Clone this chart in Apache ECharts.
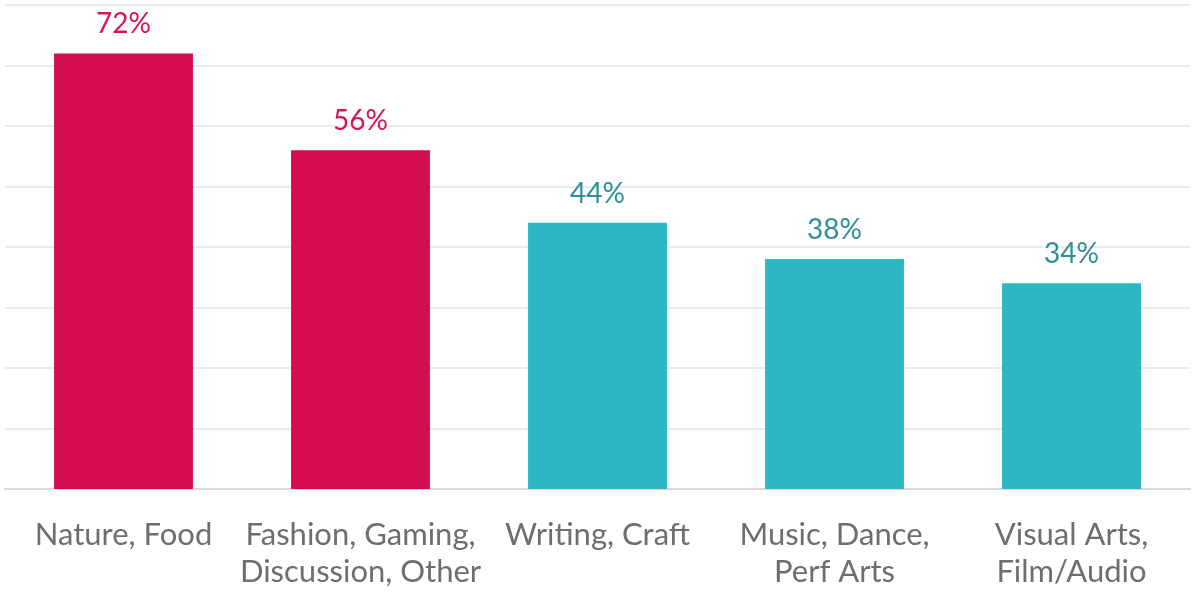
<!DOCTYPE html>
<html>
<head>
<meta charset="utf-8">
<script src="https://cdn.jsdelivr.net/npm/echarts@6/dist/echarts.min.js"></script>
<style>
  html, body { margin: 0; padding: 0; background: #ffffff; }
  #chart { width: 1192px; height: 598px; }
</style>
</head>
<body>
<div id="chart"></div>
<script>
// Share of respondents by content category
const categories = [
  'Nature, Food',
  'Fashion, Gaming,\nDiscussion, Other',
  'Writing, Craft',
  'Music, Dance,\nPerf Arts',
  'Visual Arts,\nFilm/Audio'
];
const values = [72, 56, 44, 38, 34];
// First two categories are highlighted
const highlighted = [true, true, false, false, false];

const PINK = '#d50c50';
const TEAL = '#2db6c4';
const PINK_TEXT = '#d5145a';
const TEAL_TEXT = '#2e8e99';
const FONT = 'Lato';

const chart = echarts.init(document.getElementById('chart'));

chart.setOption({
  animation: false,
  grid: { left: 5, right: 2, top: 5, bottom: 109, containLabel: false },
  xAxis: {
    type: 'category',
    data: categories,
    axisTick: { show: false },
    axisLine: { show: true, lineStyle: { color: '#d9d9d9', width: 2 } },
    axisLabel: {
      interval: 0,
      margin: 27,
      color: '#6e6e6e',
      fontFamily: FONT,
      fontSize: 31,
      lineHeight: 37
    }
  },
  yAxis: {
    type: 'value',
    min: 0,
    max: 80,
    interval: 10,
    axisLabel: { show: false },
    axisLine: { show: false },
    axisTick: { show: false },
    splitLine: { lineStyle: { color: '#ebebeb', width: 2 } }
  },
  series: [{
    type: 'bar',
    barWidth: '58.6%',
    data: values.map((v, i) => ({
      value: v,
      itemStyle: { color: highlighted[i] ? PINK : TEAL },
      label: { color: highlighted[i] ? PINK_TEXT : TEAL_TEXT }
    })),
    label: {
      show: true,
      position: 'top',
      distance: 15,
      fontFamily: FONT,
      fontSize: 28,
      formatter: p => p.value + '%'
    }
  }]
});
</script>
</body>
</html>
